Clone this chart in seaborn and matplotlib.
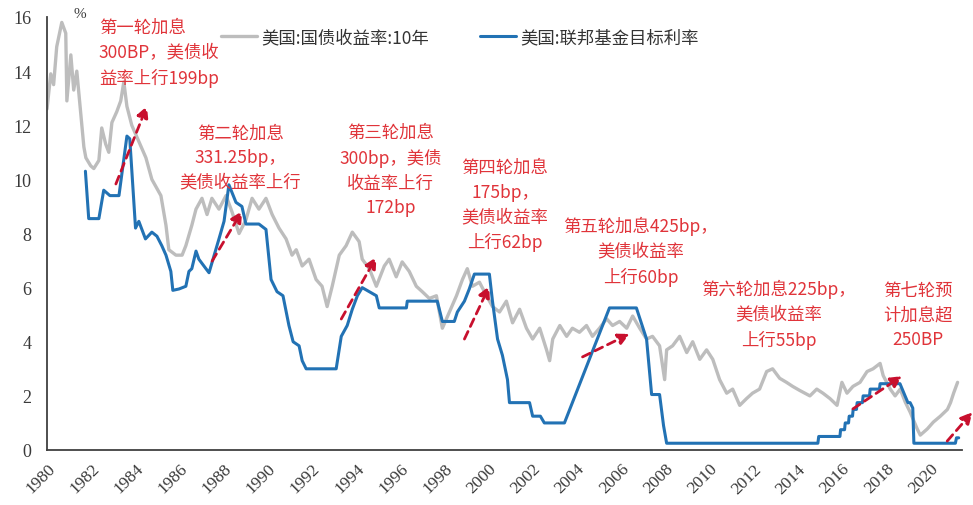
import matplotlib
matplotlib.use("Agg")
import matplotlib.pyplot as plt
import matplotlib.transforms as mtransforms
import pandas as pd
import seaborn as sns

# 10-year Treasury yield (%), sampled along the time axis
ust_year = [
    1980.00, 1980.17, 1980.30, 1980.44, 1980.67, 1980.85, 1980.90, 1981.08, 1981.21, 1981.35,
    1981.53, 1981.67, 1981.76, 1981.98, 1982.12, 1982.35, 1982.48, 1982.66, 1982.80, 1982.94,
    1983.16, 1983.34, 1983.48, 1983.62, 1983.84, 1984.16, 1984.48, 1984.75, 1985.16, 1985.39,
    1985.52, 1985.84, 1986.12, 1986.29, 1986.56, 1986.75, 1987.02, 1987.25, 1987.47, 1987.79,
    1988.11, 1988.38, 1988.70, 1989.01, 1989.29, 1989.60, 1989.92, 1990.20, 1990.51, 1990.83,
    1991.10, 1991.29, 1991.56, 1991.87, 1992.19, 1992.46, 1992.69, 1992.92, 1993.24, 1993.55,
    1993.83, 1994.14, 1994.28, 1994.60, 1994.92, 1995.28, 1995.50, 1995.82, 1996.09, 1996.41,
    1996.73, 1997.00, 1997.32, 1997.64, 1997.91, 1998.23, 1998.55, 1998.82, 1999.04, 1999.27,
    1999.59, 1999.91, 2000.18, 2000.50, 2000.81, 2001.09, 2001.41, 2001.72, 2002.00, 2002.32,
    2002.63, 2002.77, 2002.91, 2003.23, 2003.54, 2003.80, 2004.12, 2004.44, 2004.71, 2005.03,
    2005.35, 2005.62, 2005.94, 2006.26, 2006.53, 2006.85, 2007.16, 2007.43, 2007.75, 2007.98,
    2008.07, 2008.34, 2008.66, 2008.98, 2009.25, 2009.57, 2009.88, 2010.16, 2010.47, 2010.79,
    2011.06, 2011.38, 2011.69, 2011.96, 2012.28, 2012.60, 2012.87, 2013.19, 2013.50, 2013.78,
    2014.10, 2014.56, 2014.87, 2015.15, 2015.47, 2015.79, 2016.01, 2016.24, 2016.51, 2016.83,
    2017.15, 2017.42, 2017.74, 2017.88, 2018.20, 2018.42, 2018.65, 2018.88, 2019.10, 2019.42,
    2019.56, 2019.88, 2020.15, 2020.47, 2020.79, 2020.93, 2021.07, 2021.25,
]
ust_value = [
    12.6, 13.9, 13.5, 14.9, 15.8, 15.4, 12.9, 14.6, 13.3, 14.0,
    12.4, 11.2, 10.8, 10.5, 10.4, 10.7, 11.9, 11.3, 11.0, 12.1,
    12.5, 12.9, 13.6, 12.7, 12.0, 11.4, 10.8, 10.0, 9.4, 8.3,
    7.4, 7.2, 7.2, 7.55, 8.3, 8.9, 9.3, 8.7, 9.3, 8.9,
    9.4, 8.8, 8.0, 8.5, 9.3, 8.9, 9.3, 8.7, 8.2, 7.8,
    7.2, 7.4, 6.8, 7.05, 6.3, 6.05, 5.3, 6.05, 7.2, 7.55,
    8.05, 7.7, 7.05, 6.7, 6.05, 6.8, 7.05, 6.4, 6.95, 6.6,
    6.05, 5.85, 5.6, 5.7, 4.5, 5.1, 5.7, 6.3, 6.7, 6.05,
    6.2, 5.7, 5.3, 5.1, 5.5, 4.7, 5.2, 4.5, 4.1, 4.5,
    3.7, 3.3, 4.1, 4.6, 4.2, 4.5, 4.35, 4.6, 4.2, 4.5,
    4.85, 4.6, 4.75, 4.5, 4.95, 4.5, 4.1, 4.2, 3.85, 2.6,
    3.7, 3.85, 4.2, 3.6, 4.0, 3.35, 3.7, 3.35, 2.6, 2.1,
    2.25, 1.65, 1.9, 2.1, 2.25, 2.9, 3.0, 2.65, 2.5, 2.35,
    2.2, 2.0, 2.25, 2.1, 1.9, 1.65, 2.5, 2.1, 2.35, 2.5,
    2.9, 3.0, 3.2, 2.75, 2.25, 2.0, 2.25, 1.77, 1.4, 0.78,
    0.55, 0.78, 1.03, 1.25, 1.5, 1.75, 2.1, 2.5,
]

# Fed funds target rate (%), vertices of the path
ffr_year = [
    1981.74, 1981.89, 1982.35, 1982.57, 1982.85, 1983.26, 1983.44, 1983.62, 1983.75, 1984.01,
    1984.16, 1984.46, 1984.75, 1984.98, 1985.20, 1985.39, 1985.61, 1985.70, 1985.98, 1986.29,
    1986.43, 1986.56, 1986.75, 1986.88, 1987.20, 1987.34, 1987.79, 1988.02, 1988.24, 1988.56,
    1988.83, 1989.01, 1989.60, 1989.92, 1990.15, 1990.42, 1990.69, 1990.96, 1991.15, 1991.42,
    1991.56, 1991.74, 1993.10, 1993.33, 1993.60, 1993.83, 1994.06, 1994.28, 1994.60, 1994.92,
    1995.05, 1996.28, 1996.32, 1997.68, 1997.91, 1998.45, 1998.59, 1998.91, 1999.13, 1999.36,
    2000.04, 2000.18, 2000.41, 2000.63, 2000.86, 2000.95, 2001.86, 2002.00, 2002.35, 2002.53,
    2003.44, 2005.48, 2006.70, 2007.16, 2007.39, 2007.75, 2007.93, 2008.07, 2014.92, 2014.96,
    2015.92, 2015.95, 2016.13, 2016.16, 2016.31, 2016.34, 2016.49, 2016.52, 2016.67, 2016.70,
    2016.94, 2016.97, 2017.26, 2017.29, 2017.71, 2017.74, 2018.64, 2018.87, 2019.00, 2019.10,
    2019.22, 2019.27, 2021.15, 2021.20, 2021.30,
]
ffr_value = [
    10.3, 8.55, 8.55, 9.6, 9.4, 9.4, 10.5, 11.6, 11.5, 8.2,
    8.45, 7.8, 8.05, 7.9, 7.55, 7.2, 6.6, 5.9, 5.95, 6.05,
    6.6, 6.7, 7.35, 7.05, 6.7, 6.55, 7.8, 8.45, 9.8, 9.15,
    9.0, 8.35, 8.35, 8.15, 6.3, 5.85, 5.7, 4.6, 4.0, 3.85,
    3.3, 3.0, 3.0, 4.2, 4.6, 5.2, 5.7, 6.0, 5.85, 5.7,
    5.25, 5.25, 5.5, 5.5, 4.75, 4.75, 5.1, 5.5, 5.95, 6.5,
    6.5, 5.5, 4.1, 3.5, 2.6, 1.75, 1.75, 1.25, 1.25, 1.0,
    1.0, 5.25, 5.25, 4.1, 2.05, 2.05, 0.9, 0.25, 0.25, 0.5,
    0.5, 0.75, 0.75, 1.0, 1.0, 1.25, 1.25, 1.5, 1.5, 1.75,
    1.75, 2.0, 2.0, 2.25, 2.25, 2.45, 2.45, 2.0, 1.75, 1.75,
    1.55, 0.25, 0.25, 0.45, 0.45,
]

# Yield move during each hiking cycle: (start year, start %, end year, end %)
cycle_moves = [
    (1983.12, 9.83, 1984.53, 12.71),
    (1987.48, 6.98, 1988.84, 8.83),
    (1993.33, 4.84, 1994.92, 7.13),
    (1998.91, 4.10, 2000.04, 6.06),
    (2004.26, 3.44, 2006.39, 4.29),
    (2016.51, 1.52, 2018.73, 2.73),
    (2020.78, 0.33, 2021.92, 1.40),
]
cycle_notes = [
    "第一轮加息\n300BP，美债收\n益率上行199bp",
    "第二轮加息\n331.25bp，\n美债收益率上行",
    "第三轮加息\n300bp，美债\n收益率上行\n172bp",
    "第四轮加息\n175bp，\n美债收益率\n上行62bp",
    "第五轮加息425bp，\n美债收益率\n上行60bp",
    "第六轮加息225bp，\n美债收益率\n上行55bp",
    "第七轮预\n计加息超\n250BP",
]

x_ticks = list(range(1980, 2021, 2))
y_ticks = list(range(0, 17, 2))

ust_name = "美国:国债收益率:10年"
ffr_name = "美国:联邦基金目标利率"

sns.set_theme(style="white")
plt.rcParams["font.family"] = ["Noto Sans CJK SC", "DejaVu Sans"]

fig = plt.figure(figsize=(9.73, 5.06), dpi=100)
ax = fig.add_axes([47 / 973, 1 - 451 / 506, (962 - 47) / 973, (451 - 18) / 506])

ust = pd.DataFrame({"year": ust_year, "rate": ust_value})
ffr = pd.DataFrame({"year": ffr_year, "rate": ffr_value})

sns.lineplot(data=ust, x="year", y="rate", ax=ax, color="#BDBDBD", lw=2.4,
             estimator=None, sort=False, label=ust_name)
sns.lineplot(data=ffr, x="year", y="rate", ax=ax, color="#2272B4", lw=2.2,
             estimator=None, sort=False, label=ffr_name)

ax.set_xlim(1980, 2021.45)
ax.set_ylim(0, 16)
ax.set_xlabel("")
ax.set_ylabel("")
ax.set_xticks(x_ticks)
ax.set_yticks(y_ticks)
ax.set_xticklabels([str(t) for t in x_ticks], rotation=45, ha="right",
                   rotation_mode="anchor", fontfamily="Liberation Serif",
                   fontsize=12.5, color="#3a3a3a")
ax.set_yticklabels([str(t) for t in y_ticks], fontfamily="Liberation Serif",
                   fontsize=13, color="#3a3a3a")
shift = mtransforms.ScaledTranslation(7 / 100, -3 / 100, fig.dpi_scale_trans)
for lbl in ax.get_xticklabels():
    lbl.set_transform(lbl.get_transform() + shift)

for side in ("top", "right"):
    ax.spines[side].set_visible(False)
for side in ("left", "bottom"):
    ax.spines[side].set_color("#404040")
    ax.spines[side].set_linewidth(1.3)
ax.tick_params(axis="x", direction="inout", length=7, width=1.2, color="#404040", pad=4)
ax.tick_params(axis="y", direction="out", length=5, width=1.2, color="#404040", pad=6)
ax.grid(False)

fig.text(80 / 973, 1 - 14 / 506, "%", fontsize=11, fontfamily="Liberation Serif",
         color="#3a3a3a", ha="center", va="center")

ax.legend(loc="center left", bbox_to_anchor=(212 / 973, 1 - 38 / 506),
          bbox_transform=fig.transFigure, ncol=2, frameon=False, fontsize=12.5,
          handlelength=2.1, handletextpad=0.25, columnspacing=2.9, borderpad=0,
          labelcolor="#333333")

# dashed arrows for the yield move in each cycle
for x0, y0, x1, y1 in cycle_moves:
    ax.annotate("", xy=(x1, y1), xytext=(x0, y0), annotation_clip=False,
                arrowprops=dict(arrowstyle="-|>,head_length=0.55,head_width=0.28",
                                linestyle=(0, (3, 2)), lw=2.0, color="#C8102E",
                                shrinkA=0, shrinkB=0))

# cycle notes: (x, top y, horizontal alignment)
note_spots = [
    (1982.35, 15.96, "left"),
    (1988.75, 12.07, "center"),
    (1995.55, 12.08, "center"),
    (2000.75, 10.79, "center"),
    (2006.90, 8.65, "center"),
    (2013.15, 6.32, "center"),
    (2019.45, 6.25, "center"),
]
for text, (x, y, ha) in zip(cycle_notes, note_spots):
    ax.text(x, y, text, ha=ha, va="top", multialignment=ha, fontsize=12.5,
            color="#E0343A", linespacing=1.47)

fig.savefig("out.png", dpi=100)
